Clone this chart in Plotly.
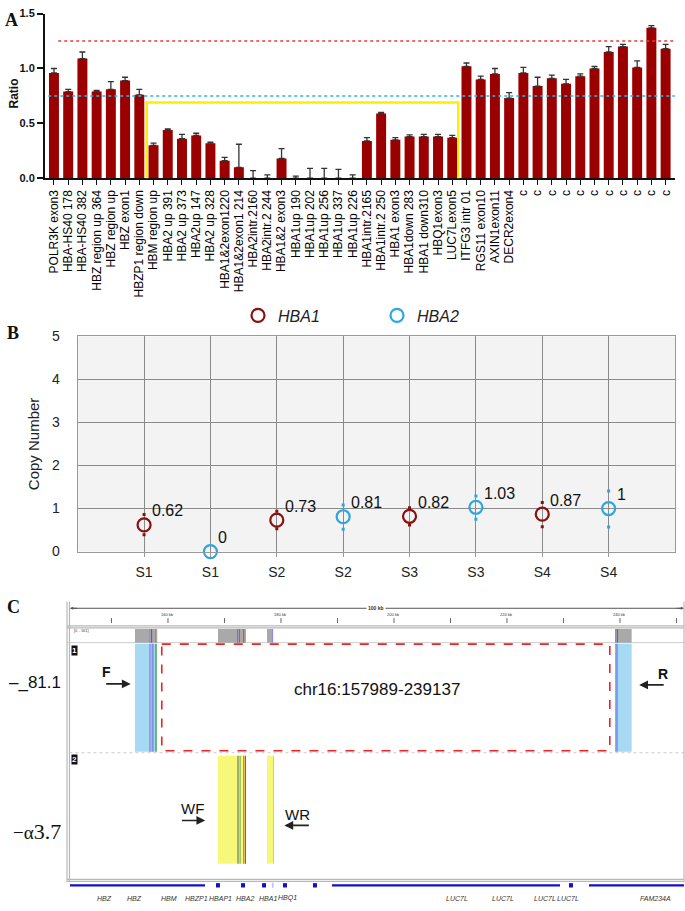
import plotly.graph_objects as go

# ---------------- Panel A data ----------------
CATEGORIES = [
    "POLR3K exon3", "HBA-HS40 178", "HBA-HS40 382", "HBZ region up 364", "HBZ region up",
    "HBZ exon1", "HBZP1 region down", "HBM region up", "HBA2 up 391", "HBA2 up 373",
    "HBA2up 147", "HBA2 up 328", "HBA1&2exon1220", "HBA1&2exon1 214", "HBA2intr.2160",
    "HBA2intr.2 244", "HBA1&2 exon3", "HBA1up 190", "HBA1up 202", "HBA1up 256",
    "HBA1up 337", "HBA1up 226", "HBA1intr.2165", "HBA1intr.2 250", "HBA1 exon3",
    "HBA1down 283", "HBA1 down310", "HBQ1exon3", "LUC7Lexon5", "ITFG3 intr 01",
    "RGS11 exon10", "AXIN1exon11", "DECR2exon4", "c", "c", "c", "c", "c", "c", "c", "c", "c", "c", "c",
]
RATIO = [0.96, 0.79, 1.09, 0.79, 0.81, 0.89, 0.76, 0.30, 0.44, 0.36,
         0.39, 0.32, 0.16, 0.10, 0.0, 0.0, 0.18, 0.0, 0.0, 0.0,
         0.0, 0.0, 0.34, 0.59, 0.35, 0.38, 0.38, 0.38, 0.37, 1.02,
         0.90, 0.95, 0.73, 0.96, 0.84, 0.91, 0.86, 0.93, 1.00, 1.15,
         1.20, 1.01, 1.37, 1.18]
RATIO_ERR = [0.04, 0.02, 0.06, 0.01, 0.07, 0.03, 0.05, 0.02, 0.01, 0.04,
             0.02, 0.01, 0.03, 0.21, 0.07, 0.03, 0.09, 0.02, 0.09, 0.09,
             0.08, 0.03, 0.03, 0.01, 0.02, 0.015, 0.02, 0.02, 0.02, 0.03,
             0.03, 0.05, 0.05, 0.05, 0.08, 0.03, 0.04, 0.02, 0.02, 0.05,
             0.02, 0.06, 0.02, 0.04]
UPPER_THRESHOLD = 1.25
LOWER_THRESHOLD = 0.75
BOX_FIRST_INDEX = 7    # HBM region up
BOX_LAST_INDEX = 28    # LUC7Lexon5
BOX_TOP = 0.69
BOX_BOTTOM = -0.06
Y_TICKS_A = [0, 0.5, 1.0, 1.5]
Y_TICK_TEXT_A = ["0.0", "0.5", "1.0", "1.5"]

# ---------------- Panel B data ----------------
SAMPLES = ["S1", "S1", "S2", "S2", "S3", "S3", "S4", "S4"]
GENES = ["HBA1", "HBA2", "HBA1", "HBA2", "HBA1", "HBA2", "HBA1", "HBA2"]
COPY_NUMBER = [0.62, 0.0, 0.73, 0.81, 0.82, 1.03, 0.87, 1.0]
COPY_LABEL = ["0.62", "0", "0.73", "0.81", "0.82", "1.03", "0.87", "1"]
COPY_LOW = [0.39, None, 0.53, 0.52, 0.62, 0.75, 0.58, 0.57]
COPY_HIGH = [0.86, None, 0.94, 1.08, 1.02, 1.29, 1.14, 1.41]

# ---------------- Panel C data (genomic kb) ----------------
RULER_START, RULER_END = 142.7, 251.1
MAJOR_TICKS_KB = [160, 180, 200, 220, 240]
MINOR_TICKS_KB = [150, 170, 190, 210, 230, 250]
COVERAGE_BLOCKS = [(154.16, 158.1), (168.85, 173.81), (177.53, 178.6), (239.12, 242.07)]
COVERAGE_STRIPES = [(156.64, 156.85, "#9a88d8"), (157.0, 157.2, "#4060e0"), (157.7, 157.9, "#e08020"),
                    (172.22, 172.42, "#7070e0"), (172.6, 172.75, "#d04040"), (173.28, 173.5, "#c06030"),
                    (178.4, 178.6, "#8a8af0"), (239.12, 239.3, "#e08030"), (239.45, 239.62, "#4050e0")]
TRACK1_BLOCKS = [(154.16, 157.75, "#a6daf2"), (239.12, 242.07, "#a6daf2")]
TRACK1_STRIPES = [(156.64, 157.1, "#9aa0e8"), (157.25, 157.42, "#5060d0"), (157.75, 158.0, "#2e9a3e"),
                  (239.12, 239.25, "#e09040"), (239.4, 239.55, "#4050e0")]
TRACK2_BLOCKS = [(168.85, 173.81, "#f8f878"), (177.53, 178.77, "#f8f878")]
TRACK2_STRIPES = [(172.22, 172.6, "#a0b070"), (172.7, 172.85, "#60a050"), (173.28, 173.5, "#f08030"),
                  (173.6, 173.81, "#e03a2a"), (178.6, 178.77, "#f5c060")]
DELETION_BOX = (158.9, 238.2)
DELETION_LABEL = "chr16:157989-239137"
GENE_LINES = [(142.66, 166.55), (189.03, 229.38), (234.52, 251.33)]
GENE_EXONS = [168.85, 173.28, 177.0, 180.71, 186.02, 231.33]
GENE_NAMES = ["HBZ", "HBZ", "HBM", "HBZP1", "HBAP1", "HBA2", "HBA1", "HBQ1",
              "LUC7L", "LUC7L", "LUC7L", "LUC7L", "FAM234A"]
GENE_LABEL_KB = [148.68, 153.99, 160.18, 164.96, 169.21, 173.63, 177.70, 181.24,
                 211.15, 219.3, 226.73, 230.8, 246.2]

W, H = 685, 911
DARK_RED = "#9b0000"
B_RED = "#8b0f0f"
B_BLUE = "#2aa7df"
SANS = "Liberation Sans, Arial, sans-serif"
SERIF = "Liberation Serif, Times New Roman, serif"


def fy(px):
    return 1 - px / H


fig = go.Figure()

# ---------------- Panel A ----------------
xa = list(range(len(CATEGORIES)))
fig.add_trace(go.Bar(
    x=xa, y=RATIO, width=0.7, marker=dict(color=DARK_RED, line=dict(width=0)),
    error_y=dict(type="data", array=RATIO_ERR, arrayminus=[0] * len(RATIO), symmetric=False,
                 color="#333333", thickness=1.3, width=3),
    xaxis="x", yaxis="y", showlegend=False, hoverinfo="x+y"))

shapes = []
shapes.append(dict(type="line", xref="x", yref="y", x0=0.3, x1=43.65,
                   y0=UPPER_THRESHOLD, y1=UPPER_THRESHOLD, line=dict(color="#e83a3a", width=1.6, dash="dot")))
shapes.append(dict(type="line", xref="x", yref="y", x0=-0.4, x1=43.65,
                   y0=LOWER_THRESHOLD, y1=LOWER_THRESHOLD, line=dict(color="#2ab4e6", width=1.6, dash="dot")))
shapes.append(dict(type="rect", xref="x", yref="y", x0=BOX_FIRST_INDEX - 0.48, x1=BOX_LAST_INDEX + 0.42,
                   y0=BOX_BOTTOM, y1=BOX_TOP, line=dict(color="#ffee00", width=2.5), layer="above"))

# ---------------- Panel B ----------------
xb = list(range(1, len(SAMPLES) + 1))
for gene, color in (("HBA1", B_RED), ("HBA2", B_BLUE)):
    idx = [i for i, g in enumerate(GENES) if g == gene]
    fig.add_trace(go.Scatter(
        x=[xb[i] for i in idx], y=[COPY_NUMBER[i] for i in idx], mode="markers",
        marker=dict(symbol="circle-open", size=13, color=color, line=dict(width=2.2, color=color)),
        name="<i>%s</i>" % gene, xaxis="x2", yaxis="y2", cliponaxis=False))
    ex, ey = [], []
    for i in idx:
        if COPY_LOW[i] is not None:
            ex += [xb[i], xb[i]]
            ey += [COPY_LOW[i], COPY_HIGH[i]]
    fig.add_trace(go.Scatter(x=ex, y=ey, mode="markers",
                             marker=dict(symbol="square", size=3, color=color),
                             xaxis="x2", yaxis="y2", showlegend=False, hoverinfo="skip"))

annotations = []
for i, lab in enumerate(COPY_LABEL):
    annotations.append(dict(x=xb[i], y=COPY_NUMBER[i], xref="x2", yref="y2", text=lab,
                            showarrow=False, xanchor="left", yanchor="middle", xshift=6, yshift=14,
                            font=dict(family=SANS, size=16, color="#111")))

# ---------------- Panel C ----------------
def rect(x0, x1, y0, y1, color, line=None):
    d = dict(type="rect", xref="x3", yref="y3", x0=x0, x1=x1, y0=y0, y1=y1,
             fillcolor=color, line=dict(width=0), layer="above")
    if line:
        d["line"] = line
        d["fillcolor"] = "rgba(0,0,0,0)"
    return d


def hline(x0, x1, y, color, width=1, dash="solid"):
    return dict(type="line", xref="x3", yref="y3", x0=x0, x1=x1, y0=y, y1=y,
                line=dict(color=color, width=width, dash=dash), layer="above")


def vline(x, y0, y1, color, width=1):
    return dict(type="line", xref="x3", yref="y3", x0=x, x1=x, y0=y0, y1=y1,
                line=dict(color=color, width=width), layer="above")


LEFT, LEFT2, RIGHT = 142.13, 142.57, 251.33
# ruler
shapes.append(hline(RULER_START, RULER_END, 611, "#555", 1))
for t in MAJOR_TICKS_KB + MINOR_TICKS_KB:
    shapes.append(vline(t, 621, 626, "#666", 1))
for t in MAJOR_TICKS_KB:
    annotations.append(dict(x=t, y=617, xref="x3", yref="y3", text="%d kb" % t, showarrow=False,
                            font=dict(family=SANS, size=4, color="#333")))
annotations.append(dict(x=196.8, y=611, xref="x3", yref="y3", text="<b>100 kb</b>", showarrow=False,
                        bgcolor="white", font=dict(family=SANS, size=5, color="#333")))
annotations.append(dict(x=RULER_START, y=611, ax=RULER_START + 1.5, ay=611, xref="x3", yref="y3",
                        axref="x3", ayref="y3", text="", showarrow=True, arrowhead=2, arrowsize=0.6,
                        arrowwidth=1, arrowcolor="#555"))
annotations.append(dict(x=RULER_END + 0.2, y=611, ax=RULER_END - 1.3, ay=611, xref="x3", yref="y3",
                        axref="x3", ayref="y3", text="", showarrow=True, arrowhead=2, arrowsize=0.6,
                        arrowwidth=1, arrowcolor="#555"))
# frame lines
shapes.append(hline(LEFT, RIGHT, 629, "#b8b8b8", 1.2))
shapes.append(hline(LEFT, RIGHT, 631, "#b8b8b8", 1.2))
shapes.append(hline(LEFT, RIGHT, 646, "#cccccc", 1))
shapes.append(hline(LEFT2, RIGHT, 758, "#cccccc", 1, "dot"))
shapes.append(hline(LEFT, RIGHT, 887, "#b8b8b8", 1.2))
shapes.append(hline(LEFT, RIGHT, 889, "#b8b8b8", 1.2))
shapes.append(vline(LEFT, 604, 890, "#b8b8b8", 1.2))
shapes.append(vline(LEFT2, 604, 890, "#b8b8b8", 1.2))
shapes.append(vline(RIGHT, 604, 890, "#b8b8b8", 1.2))
# coverage
for a, b in COVERAGE_BLOCKS:
    shapes.append(rect(a, b, 632, 646, "#a9a9a9"))
for a, b, c in COVERAGE_STRIPES:
    shapes.append(rect(a, b, 632, 646, c))
annotations.append(dict(x=LEFT2 + 0.5, y=634, xref="x3", yref="y3", text="[0 - 561]", showarrow=False,
                        xanchor="left", font=dict(family=SANS, size=4, color="#444")))
# track 1
for a, b, c in TRACK1_BLOCKS:
    shapes.append(rect(a, b, 647, 757, c))
for a, b, c in TRACK1_STRIPES:
    shapes.append(rect(a, b, 647, 757, c))
# track 2
for a, b, c in TRACK2_BLOCKS:
    shapes.append(rect(a, b, 761, 871, c))
for a, b, c in TRACK2_STRIPES:
    shapes.append(rect(a, b, 761, 871, c))
# deletion box
shapes.append(rect(DELETION_BOX[0], DELETION_BOX[1], 647.5, 756, None,
                   line=dict(color="#ee2222", width=1.6, dash="dash")))
annotations.append(dict(x=sum(DELETION_BOX) / 2 - 1.6, y=694, xref="x3", yref="y3", text=DELETION_LABEL,
                        showarrow=False, font=dict(family=SANS, size=17, color="#111")))
# gene track
for a, b in GENE_LINES:
    shapes.append(rect(a, b, 891.8, 894.2, "#1010c8"))
for e in GENE_EXONS:
    shapes.append(rect(e - 0.35, e + 0.35, 890.8, 895.2, "#1010c8"))
shapes.append(rect(178.5, 178.65, 890.5, 895.5, "#7a8af0"))
for name, kb in zip(GENE_NAMES, GENE_LABEL_KB):
    annotations.append(dict(x=kb, y=906, xref="x3", yref="y3", text="<i>%s</i>" % name, showarrow=False,
                            font=dict(family=SANS, size=7, color="#333")))
# track labels
for lab, yy in (("1", 654), ("2", 765)):
    annotations.append(dict(x=143.4, y=yy, xref="x3", yref="y3", text="<b>%s</b>" % lab, showarrow=False,
                            bgcolor="#111", borderpad=0, font=dict(family=SANS, size=8, color="white")))
# primers
def arrow(x_head, x_tail, y):
    annotations.append(dict(x=x_head, y=y, ax=x_tail, ay=y, xref="x3", yref="y3", axref="x3", ayref="y3",
                            text="", showarrow=True, arrowhead=2, arrowsize=1.1, arrowwidth=1.6,
                            arrowcolor="#222"))


annotations.append(dict(x=149.1, y=676, xref="x3", yref="y3", text="<b>F</b>", showarrow=False,
                        font=dict(family=SANS, size=14, color="#111")))
arrow(153.4, 148.8, 688)
annotations.append(dict(x=247.6, y=678, xref="x3", yref="y3", text="<b>R</b>", showarrow=False,
                        font=dict(family=SANS, size=14, color="#111")))
arrow(243.4, 248.0, 689)
annotations.append(dict(x=164.4, y=815, xref="x3", yref="y3", text="WF", showarrow=False,
                        font=dict(family=SANS, size=15, color="#111")))
arrow(166.6, 162.2, 827)
annotations.append(dict(x=183.0, y=821, xref="x3", yref="y3", text="WR", showarrow=False,
                        font=dict(family=SANS, size=15, color="#111")))
arrow(180.6, 185.2, 832)
annotations.append(dict(x=63 / W, y=fy(687), xref="paper", yref="paper", text="–_81.1", showarrow=False,
                        xanchor="right", yanchor="middle", font=dict(family=SANS, size=17, color="#111")))
annotations.append(dict(x=63 / W, y=fy(838), xref="paper", yref="paper",
                        text="−α<span style='font-size:22px'>3.7</span>", showarrow=False,
                        xanchor="right", yanchor="middle", font=dict(family=SERIF, size=19, color="#111")))

# ---------------- panel letters & titles ----------------
for letter, px, py in (("A", 11, 12), ("B", 13, 331), ("C", 13, 610)):
    annotations.append(dict(x=px / W, y=fy(py), xref="paper", yref="paper", text="<b>%s</b>" % letter,
                            showarrow=False, xanchor="center", yanchor="middle",
                            font=dict(family=SERIF, size=18, color="#111")))
annotations.append(dict(x=14 / W, y=fy(87), xref="paper", yref="paper", text="<b>Ratio</b>", textangle=-90,
                        showarrow=False, xanchor="center", yanchor="middle",
                        font=dict(family=SANS, size=12, color="#111")))
annotations.append(dict(x=33 / W, y=fy(444), xref="paper", yref="paper", text="Copy Number", textangle=-90,
                        showarrow=False, xanchor="center", yanchor="middle",
                        font=dict(family=SANS, size=15, color="#222")))

fig.update_layout(
    width=W, height=H, autosize=False, margin=dict(l=0, r=0, t=0, b=0),
    paper_bgcolor="white", plot_bgcolor="white",
    shapes=shapes, annotations=annotations,
    showlegend=True,
    legend=dict(orientation="h", x=238 / W, y=fy(313), xanchor="left", yanchor="middle",
                entrywidth=94, font=dict(family=SANS, size=16, color="#222"), bgcolor="rgba(0,0,0,0)"),
    xaxis=dict(domain=[45 / W, 675 / W], range=[-0.63, 43.66], tickvals=xa, ticktext=CATEGORIES,
               tickangle=-90, tickfont=dict(family=SANS, size=12, color="#000"), ticks="outside",
               ticklen=5, tickwidth=1.3, tickcolor="#111", showline=True, linecolor="#111", linewidth=2,
               showgrid=False, zeroline=False, fixedrange=True),
    yaxis=dict(domain=[fy(173.3), fy(5.7)], range=[0, 1.5], tickvals=Y_TICKS_A, ticktext=Y_TICK_TEXT_A,
               tickfont=dict(family=SANS, size=11, color="#111", weight="bold"), ticks="outside", ticklen=6,
               tickwidth=1.5, tickcolor="#111", showline=True, linecolor="#111", linewidth=2,
               showgrid=False, zeroline=False),
    xaxis2=dict(domain=[77.7 / W, 675 / W], range=[0, 9], tickvals=xb, ticktext=SAMPLES,
                tickfont=dict(family=SANS, size=14, color="#222"), ticks="outside", ticklen=4,
                tickcolor="#999", ticklabelstandoff=4, showgrid=True, gridcolor="#8a8a8a", gridwidth=1,
                showline=True, linecolor="#999", mirror=True, zeroline=False, anchor="y2"),
    yaxis2=dict(domain=[fy(553.3), fy(334.3)], range=[0, 5], dtick=1,
                tickfont=dict(family=SANS, size=14, color="#222"), ticks="", ticklabelstandoff=14,
                showgrid=True, gridcolor="#8a8a8a", gridwidth=1, showline=True, linecolor="#999",
                mirror=True, zeroline=False, anchor="x2"),
    xaxis3=dict(domain=[0, 1], range=[130.27, 251.51], visible=False, anchor="y3"),
    yaxis3=dict(domain=[0, fy(600)], range=[911, 600], visible=False, anchor="x3"),
)
fig.add_shape(type="rect", xref="x2 domain", yref="y2 domain", x0=0, x1=1, y0=0, y1=1,
              fillcolor="#f3f3f3", line=dict(width=0), layer="below")

fig.write_html("out.html", config={"displayModeBar": False},
               post_script="document.body.style.margin='0';document.body.style.overflow='hidden';")
